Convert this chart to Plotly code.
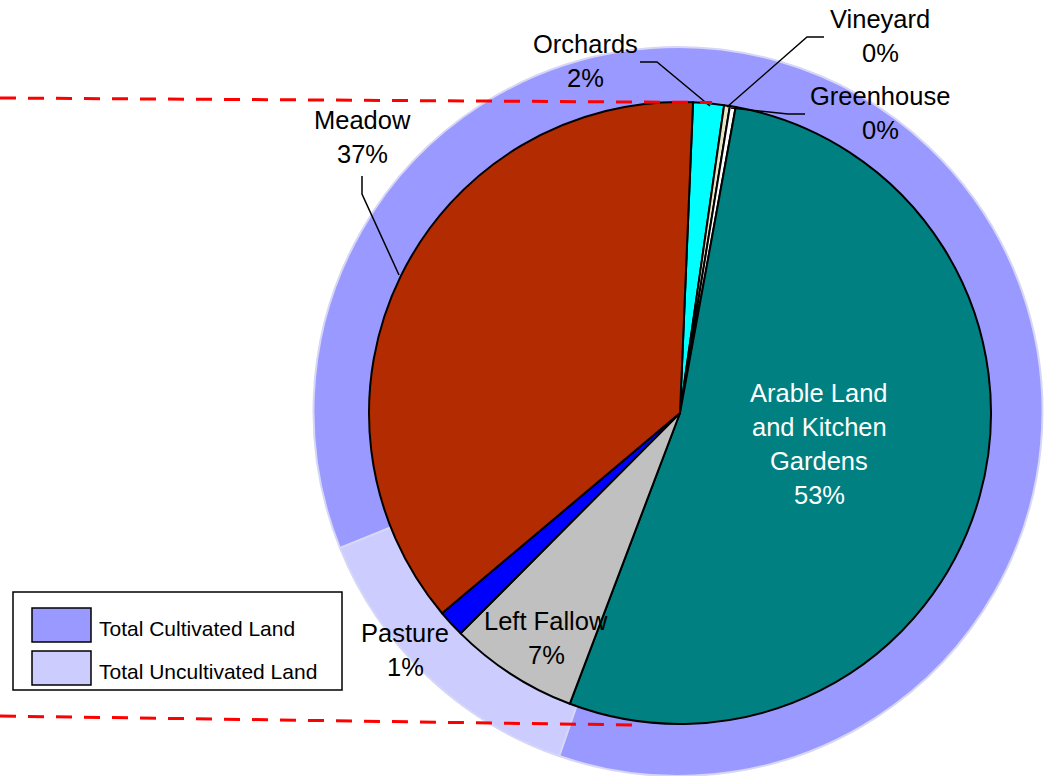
import plotly.graph_objects as go

W, H = 1053, 776

# ---- data ----
land_types = ["Orchards", "Vineyard", "Greenhouse", "Arable Land and Kitchen Gardens",
              "Left Fallow", "Pasture", "Meadow"]
land_share = [1.6, 0.3, 0.3, 52.9, 6.7, 1.4, 36.8]
land_colors = ["#00FFFF", "#E8E5C4", "#FFFFFF", "#008080", "#C0C0C0", "#0000FF", "#B32B00"]

totals = ["Total Cultivated Land", "Total Uncultivated Land"]
totals_share = [86.4, 13.6]
totals_colors = ["#9999FF", "#CCCCFF"]

# label lines (display text) for each land type
label_lines = {
    "Orchards": ["Orchards"],
    "Vineyard": ["Vineyard"],
    "Greenhouse": ["Greenhouse"],
    "Arable Land and Kitchen Gardens": ["Arable Land", "and Kitchen", "Gardens"],
    "Left Fallow": ["Left Fallow"],
    "Pasture": ["Pasture"],
    "Meadow": ["Meadow"],
}

# ---- layout helpers (pixel -> paper) ----
def X(x):
    return x / W

def Y(y):
    return 1 - y / H

FONT = "Liberation Sans, Arial, sans-serif"

fig = go.Figure()

# outer ring (total cultivated / uncultivated)
fig.add_trace(go.Pie(
    labels=totals, values=totals_share, sort=False, direction="clockwise",
    rotation=248,
    marker=dict(colors=totals_colors, line=dict(color="#D6D6F6", width=2)),
    textinfo="none", hoverinfo="label+percent", showlegend=False,
    domain=dict(x=[X(313.4), X(1042.6)], y=[0, 729 / H]),
))

# inner pie (land types)
fig.add_trace(go.Pie(
    labels=land_types, values=land_share, sort=False, direction="clockwise",
    rotation=2.4,
    marker=dict(colors=land_colors, line=dict(color="#000000", width=2)),
    textinfo="none", hoverinfo="label+percent", showlegend=False,
    domain=dict(x=[X(369), X(991)], y=[Y(724), Y(102)]),
))

# label positions (pixel centers of first line), colours
label_pos = {
    "Orchards": (585, 44, "black"),
    "Vineyard": (880, 19, "black"),
    "Greenhouse": (880, 96, "black"),
    "Arable Land and Kitchen Gardens": (819, 393, "white"),
    "Left Fallow": (546, 621, "black"),
    "Pasture": (405, 633, "black"),
    "Meadow": (362, 120, "black"),
}
LINE_GAP = 34

annotations = []
for name, share in zip(land_types, land_share):
    cx, cy, col = label_pos[name]
    lines = label_lines[name] + [f"{round(share)}%"]
    for i, t in enumerate(lines):
        annotations.append(dict(
            x=X(cx), y=Y(cy + i * LINE_GAP), xref="paper", yref="paper",
            text=t, showarrow=False, xanchor="center", yanchor="middle",
            font=dict(family=FONT, size=25.5, color=col),
        ))

shapes = []

# leader lines
leaders = [
    [(640, 62), (657, 62), (710, 106)],      # Orchards
    [(824, 37), (807, 37), (727, 107)],      # Vineyard
    [(805, 114), (788, 114), (731, 108)],    # Greenhouse
    [(362, 176), (362, 194), (399, 275)],    # Meadow
]
for pts in leaders:
    path = "M " + " L ".join(f"{X(px)},{Y(py)}" for px, py in pts)
    shapes.append(dict(type="path", path=path, xref="paper", yref="paper",
                       line=dict(color="black", width=1.5), layer="above"))

# red dashed connector lines
for (x0, y0), (x1, y1) in [((0, 98), (712, 102.5)), ((0, 716), (632, 725))]:
    shapes.append(dict(type="line", x0=X(x0), y0=Y(y0), x1=X(x1), y1=Y(y1),
                       xref="paper", yref="paper",
                       line=dict(color="#FF0000", width=3, dash="16px,12px"),
                       layer="above"))

# legend box
shapes.append(dict(type="rect", x0=X(13), y0=Y(592), x1=X(342), y1=Y(690),
                   xref="paper", yref="paper", fillcolor="white",
                   line=dict(color="black", width=1.5), layer="above"))
sw_tops = [608, 651]
for name, col, top in zip(totals, totals_colors, sw_tops):
    shapes.append(dict(type="rect", x0=X(32), y0=Y(top), x1=X(91), y1=Y(top + 34),
                       xref="paper", yref="paper", fillcolor=col,
                       line=dict(color="black", width=1.5), layer="above"))
    annotations.append(dict(
        x=X(97), y=Y(top + 20), xref="paper", yref="paper", text=name,
        showarrow=False, xanchor="left", yanchor="middle",
        font=dict(family=FONT, size=21, color="black"),
    ))

fig.update_layout(
    width=W, height=H, margin=dict(l=0, r=0, t=0, b=0),
    paper_bgcolor="white", plot_bgcolor="white",
    showlegend=False, annotations=annotations, shapes=shapes,
    font=dict(family=FONT),
)

fig.write_html("out.html",
               config={"displayModeBar": False},
               post_script="document.body.style.margin='0';document.body.style.overflow='hidden';")
